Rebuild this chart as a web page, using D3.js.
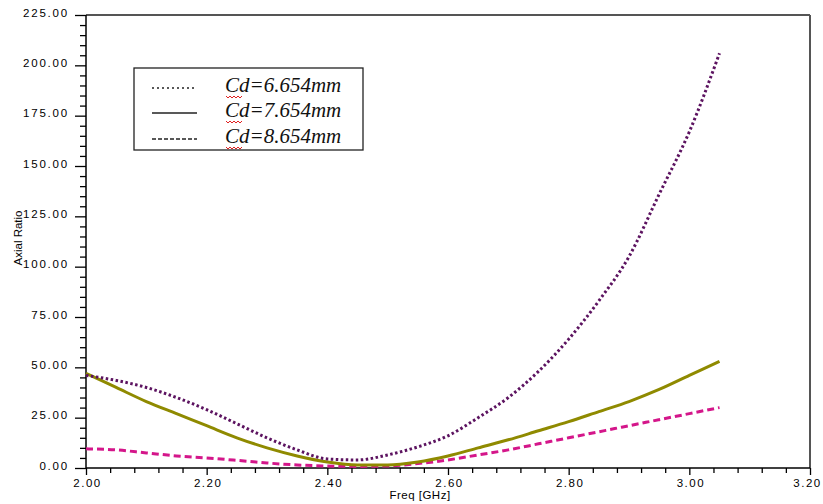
<!DOCTYPE html>
<html><head><meta charset="utf-8">
<script src="https://cdn.jsdelivr.net/npm/d3@7"></script>
<style>body{margin:0;background:#fff}svg{display:block}</style>
</head><body>
<svg id="c" width="823" height="504"></svg>
<script>
const freq = [2.00,2.05,2.10,2.15,2.20,2.25,2.30,2.35,2.40,2.45,2.50,2.55,2.60,2.65,2.70,2.75,2.80,2.85,2.90,2.95,3.00,3.05];
const ar6654 = [46,43.5,40,35,29,22,15,9,4.5,4,6.5,10.5,16,25,35,48,64,83,105,136,167,206];
const ar7654 = [47,40,33,27,21,15,10,6,3,1.5,1.5,3,6,10,14,18.5,23,28,33,39,46,53];
const ar8654 = [9.5,9,7.5,6,5,3.8,2.5,1.5,1,0.8,1,2.2,4,6.5,9,12,15,18,21,24,27,30];
const seriesNames = ["Cd=6.654mm","Cd=7.654mm","Cd=8.654mm"];
const xTicks = [2.00,2.20,2.40,2.60,2.80,3.00,3.20];
const yTicks = [0,25,50,75,100,125,150,175,200,225];

const svg = d3.select("#c");
const L=86,R=810,T=15,B=468;
const x = d3.scaleLinear().domain([2.0,3.2]).range([L,R]);
const y = d3.scaleLinear().domain([0,225]).range([B,T]);

const xMinor = d3.range(0,31).map(i=>2.0+i*0.04).filter(v=>Math.abs(((v-2)/0.2)-Math.round((v-2)/0.2))>1e-6);
const yMinor = d3.range(0,46).map(i=>i*5).filter(v=>v%25!==0);

const gx = svg.append("g").attr("transform",`translate(0,${B})`)
  .call(d3.axisBottom(x).tickValues(xTicks).tickFormat(d3.format(".2f")).tickSize(7).tickPadding(4));
gx.select(".domain").remove();
gx.selectAll(".tick line").attr("stroke","#000").attr("stroke-width",1.3);
gx.selectAll("text").attr("font-family","Liberation Sans, Arial, sans-serif").attr("font-size",11.5).attr("letter-spacing",1.5).attr("fill","#000")
  .attr("dx",(d,i)=> i===xTicks.length-1 ? -3 : 1);
const gxm = svg.append("g").attr("transform",`translate(0,${B})`)
  .call(d3.axisBottom(x).tickValues(xMinor).tickFormat("").tickSize(5));
gxm.select(".domain").remove();
gxm.selectAll(".tick line").attr("stroke","#000").attr("stroke-width",1.3);

const gy = svg.append("g").attr("transform",`translate(${L},0)`)
  .call(d3.axisLeft(y).tickValues(yTicks).tickFormat(d3.format(".2f")).tickSize(11).tickPadding(6));
gy.select(".domain").remove();
gy.selectAll(".tick line").attr("stroke","#000").attr("stroke-width",1.3);
gy.selectAll("text").attr("font-family","Liberation Sans, Arial, sans-serif").attr("font-size",11.5).attr("letter-spacing",1.8).attr("fill","#000").attr("dy","0.1em");
const gym = svg.append("g").attr("transform",`translate(${L},0)`)
  .call(d3.axisLeft(y).tickValues(yMinor).tickFormat("").tickSize(6));
gym.select(".domain").remove();
gym.selectAll(".tick line").attr("stroke","#000").attr("stroke-width",1.3);

// frame
svg.append("line").attr("x1",L).attr("x2",R).attr("y1",T).attr("y2",T).attr("stroke","#555").attr("stroke-width",2);
svg.append("line").attr("x1",R).attr("x2",R).attr("y1",T).attr("y2",B).attr("stroke","#555").attr("stroke-width",2);
svg.append("line").attr("x1",L).attr("x2",L).attr("y1",T).attr("y2",B).attr("stroke","#000").attr("stroke-width",1.5);
svg.append("line").attr("x1",L).attr("x2",R).attr("y1",B).attr("y2",B).attr("stroke","#000").attr("stroke-width",1.5);

// curves
const line = d3.line().x((d,i)=>x(freq[i])).y(d=>y(d)).curve(d3.curveMonotoneX);
svg.append("path").datum(ar8654).attr("d",line).attr("fill","none").attr("stroke","#d4168a").attr("stroke-width",3).attr("stroke-dasharray","7,4");
svg.append("path").datum(ar7654).attr("d",line).attr("fill","none").attr("stroke","#8f8a00").attr("stroke-width",3);
svg.append("path").datum(ar6654).attr("d",line).attr("fill","none").attr("stroke","#5c1360").attr("stroke-width",3).attr("stroke-dasharray","2.5,2.5");

// axis titles
svg.append("text").attr("x",420).attr("y",499).attr("text-anchor","middle")
  .attr("font-family","Liberation Sans, Arial, sans-serif").attr("font-size",11.5).attr("letter-spacing",0.5).text("Freq [GHz]");
svg.append("text").attr("transform","translate(22,238) rotate(-90)").attr("text-anchor","middle")
  .attr("font-family","Liberation Sans, Arial, sans-serif").attr("font-size",11.5).text("Axial Ratio");

// legend
const lg = svg.append("g");
lg.append("rect").attr("x",134).attr("y",68).attr("width",229).attr("height",82).attr("fill","#fff").attr("stroke","#222").attr("stroke-width",1.3);
const dashes = ["2,3",null,"4,2"];
const rowsY = [85,110,136];
seriesNames.forEach((n,i)=>{
  lg.append("line").attr("x1",152).attr("x2",197).attr("y1",rowsY[i]+3).attr("y2",rowsY[i]+3)
    .attr("stroke","#222").attr("stroke-width",1.5).attr("stroke-dasharray",dashes[i]);
  lg.append("text").attr("x",225).attr("y",rowsY[i]+7)
    .attr("font-family","Liberation Serif, Times New Roman, serif").attr("font-style","italic").attr("font-size",21).attr("fill","#111").text(n);
  const yy = rowsY[i]+11;
  let p = `M226,${yy}`;
  for(let k=0;k<8;k++){ p += ` l2,${k%2?-2:2}`; }
  lg.append("path").attr("d",p).attr("fill","none").attr("stroke","#e02020").attr("stroke-width",1);
});
</script>
</body></html>
